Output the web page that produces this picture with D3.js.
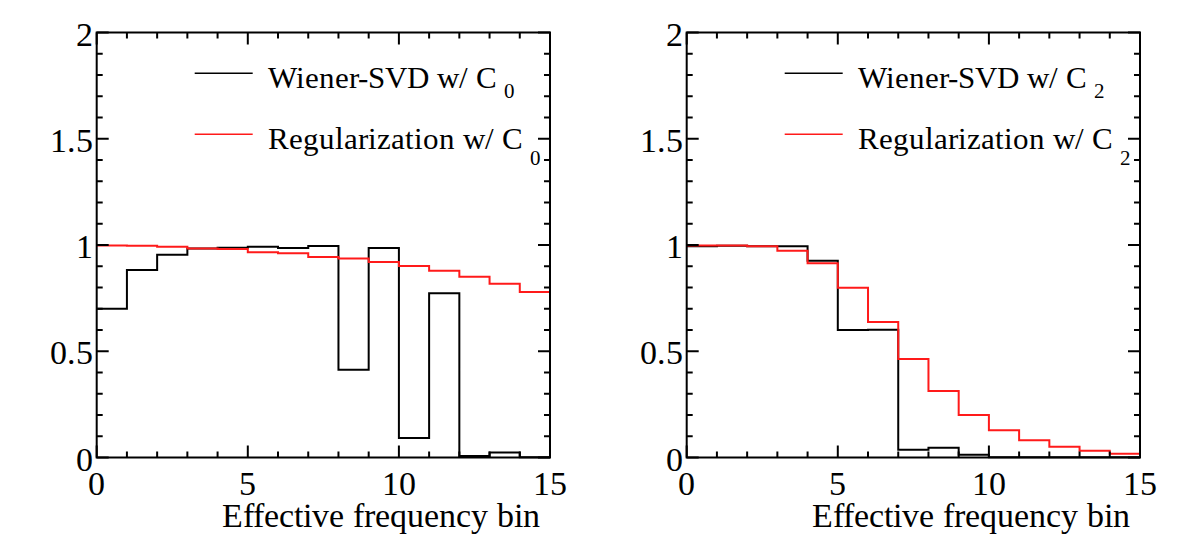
<!DOCTYPE html>
<html>
<head>
<meta charset="utf-8">
<script src="https://d3js.org/d3.v7.min.js"></script>
<style>
  @font-face {
    font-family: "RootSerif";
    src: local("Liberation Serif"), local("LiberationSerif-Regular"), local("Tinos"), local("Times New Roman");
  }
  body { margin: 0; background: #fff; font-family: "RootSerif", "Liberation Serif", "Times New Roman", Times, serif; }
  svg text { font-family: "RootSerif", "Liberation Serif", "Times New Roman", Times, serif; }
</style>
</head>
<body>
<svg id="chart" width="1182" height="544"></svg>
<script>
// bin index (lower edge) for the 15 effective frequency bins
const bins = [0, 1, 2, 3, 4, 5, 6, 7, 8, 9, 10, 11, 12, 13, 14];

// left panel, C0
const wienerC0 = [0.70, 0.882, 0.954, 0.984, 0.987, 0.992, 0.986, 0.995, 0.413, 0.986, 0.092, 0.773, 0.007, 0.024, 0.001];
const regC0    = [0.998, 0.997, 0.992, 0.984, 0.981, 0.966, 0.961, 0.944, 0.936, 0.920, 0.901, 0.879, 0.851, 0.818, 0.779];

// right panel, C2
const wienerC2 = [0.994, 0.997, 0.994, 0.994, 0.926, 0.600, 0.601, 0.037, 0.046, 0.013, 0.001, 0.001, 0.001, 0.001, 0.001];
const regC2    = [0.998, 0.998, 0.994, 0.973, 0.914, 0.799, 0.638, 0.464, 0.313, 0.200, 0.128, 0.081, 0.051, 0.032, 0.018];

const xMajor = [0, 5, 10, 15];
const xMinor = [1, 2, 3, 4, 6, 7, 8, 9, 11, 12, 13, 14];
const yMajor = [0, 0.5, 1, 1.5, 2];
const yMinor = [0.1, 0.2, 0.3, 0.4, 0.6, 0.7, 0.8, 0.9, 1.1, 1.2, 1.3, 1.4, 1.6, 1.7, 1.8, 1.9];

const xTitle = "Effective frequency bin";
const legendNames = ["Wiener-SVD w/ C", "Regularization w/ C"];

const svg = d3.select("#chart");

function addText(size) {
    return svg.append("text").attr("font-size", size);
}

function drawPanel(left, wiener, reg, sub) {
    const x = d3.scaleLinear().domain([0, 15]).range([left, left + 453.3]);
    const y = d3.scaleLinear().domain([0, 2]).range([457.5, 32.5]);

    // histograms as step outlines
    const step = d3.line().x(d => x(d[0])).y(d => y(d[1]));
    const outline = vals => bins.flatMap((b, i) => [[b, vals[i]], [b + 1, vals[i]]]);

    svg.append("path").attr("d", step(outline(wiener)))
        .attr("fill", "none").attr("stroke", "#000").attr("stroke-width", 2);
    svg.append("path").attr("d", step(outline(reg)))
        .attr("fill", "none").attr("stroke", "#ff1a1a").attr("stroke-width", 2);

    // ticks on all four sides, pointing inward
    const ticks = svg.append("g").attr("stroke", "#000").attr("stroke-width", 2);
    [[xMinor, 6], [xMajor, 12]].forEach(([vals, len]) => {
        vals.forEach(v => {
            ticks.append("line").attr("x1", x(v)).attr("x2", x(v)).attr("y1", y(0)).attr("y2", y(0) - len);
            ticks.append("line").attr("x1", x(v)).attr("x2", x(v)).attr("y1", y(2)).attr("y2", y(2) + len);
        });
    });
    [[yMinor, 6], [yMajor, 12]].forEach(([vals, len]) => {
        vals.forEach(v => {
            ticks.append("line").attr("y1", y(v)).attr("y2", y(v)).attr("x1", x(0)).attr("x2", x(0) + len);
            ticks.append("line").attr("y1", y(v)).attr("y2", y(v)).attr("x1", x(15)).attr("x2", x(15) - len);
        });
    });

    // frame
    svg.append("rect")
        .attr("x", x(0)).attr("y", y(2))
        .attr("width", x(15) - x(0)).attr("height", y(0) - y(2))
        .attr("fill", "none").attr("stroke", "#000").attr("stroke-width", 2);

    // tick labels
    yMajor.forEach(v => {
        addText(34).attr("x", x(0) - 4).attr("y", y(v) + 13)
            .attr("text-anchor", "end").text(String(v));
    });
    xMajor.forEach(v => {
        addText(34).attr("x", x(v)).attr("y", 495)
            .attr("text-anchor", "middle").text(String(v));
    });

    // axis title
    addText(34).attr("x", x(15) - 10).attr("y", 527)
        .attr("text-anchor", "end").text(xTitle);

    // legend
    const legY = [73.3, 134.3];
    const subDy = [10, 16];
    const colors = ["#000", "#ff1a1a"];
    legendNames.forEach((name, i) => {
        svg.append("line")
            .attr("x1", x(0) + 98).attr("x2", x(0) + 156)
            .attr("y1", legY[i]).attr("y2", legY[i])
            .attr("stroke", colors[i]).attr("stroke-width", 1.5);
        const t = addText(31).attr("x", x(0) + 171).attr("y", legY[i] + 14.5);
        t.append("tspan").text(name);
        t.append("tspan").attr("dx", 7).attr("dy", subDy[i])
            .attr("font-size", 21).text(sub);
    });
}

drawPanel(96.7, wienerC0, regC0, "0");
drawPanel(686.7, wienerC2, regC2, "2");
</script>
</body>
</html>
